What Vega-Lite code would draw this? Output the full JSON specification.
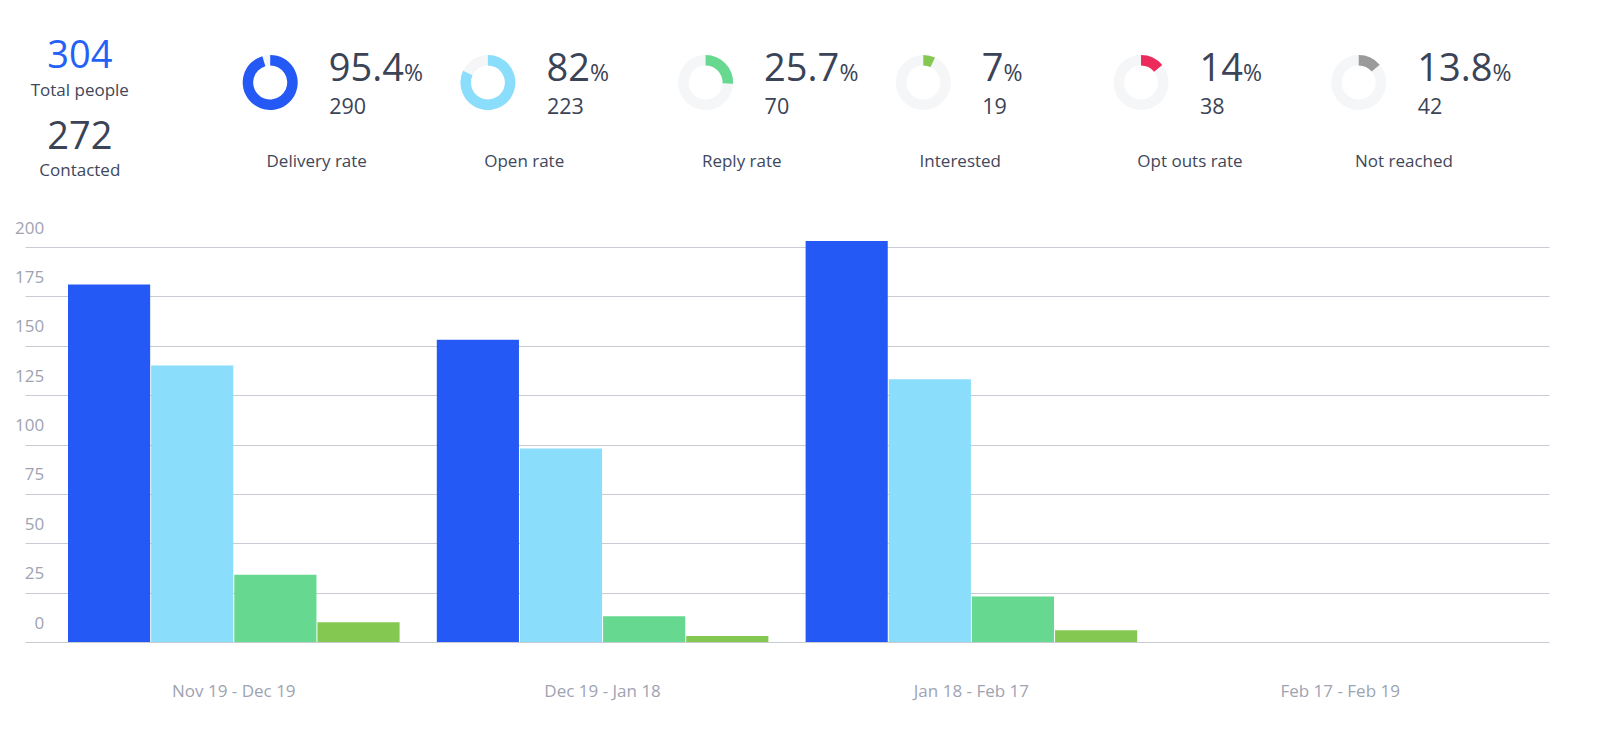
{
  "$schema": "https://vega.github.io/schema/vega-lite/v6.json",
  "padding": {"left": 14, "top": 0, "right": 20, "bottom": 36},
  "autosize": {"type": "pad"},
  "background": "white",
  "config": {"font": "Open Sans", "view": {"stroke": null}},
  "datasets": {
    "people": [{"total": 304, "contacted": 272}],
    "kpis": [
      {"metric": "Delivery rate", "rate": 95.4, "count": 290},
      {"metric": "Open rate", "rate": 82, "count": 223},
      {"metric": "Reply rate", "rate": 25.7, "count": 70},
      {"metric": "Interested", "rate": 7, "count": 19},
      {"metric": "Opt outs rate", "rate": 14, "count": 38},
      {"metric": "Not reached", "rate": 13.8, "count": 42}
    ],
    "periods": [
      {"period": "Nov 19 - Dec 19", "series": "Delivered", "value": 181},
      {"period": "Nov 19 - Dec 19", "series": "Opened", "value": 140},
      {"period": "Nov 19 - Dec 19", "series": "Replied", "value": 34},
      {"period": "Nov 19 - Dec 19", "series": "Interested", "value": 10},
      {"period": "Dec 19 - Jan 18", "series": "Delivered", "value": 153},
      {"period": "Dec 19 - Jan 18", "series": "Opened", "value": 98},
      {"period": "Dec 19 - Jan 18", "series": "Replied", "value": 13},
      {"period": "Dec 19 - Jan 18", "series": "Interested", "value": 3},
      {"period": "Jan 18 - Feb 17", "series": "Delivered", "value": 203},
      {"period": "Jan 18 - Feb 17", "series": "Opened", "value": 133},
      {"period": "Jan 18 - Feb 17", "series": "Replied", "value": 23},
      {"period": "Jan 18 - Feb 17", "series": "Interested", "value": 6},
      {"period": "Feb 17 - Feb 19", "series": "Delivered", "value": 0},
      {"period": "Feb 17 - Feb 19", "series": "Opened", "value": 0},
      {"period": "Feb 17 - Feb 19", "series": "Replied", "value": 0},
      {"period": "Feb 17 - Feb 19", "series": "Interested", "value": 0}
    ]
  },
  "bounds": "flush",
  "spacing": 82,
  "vconcat": [
    {
      "width": 1500,
      "height": 165,
      "data": {"name": "kpis"},
      "encoding": {
        "x": {"field": "metric", "type": "nominal", "sort": null, "axis": null, "scale": {"type": "band", "domain": ["Delivery rate", "Open rate", "Reply rate", "Interested", "Opt outs rate", "Not reached"], "paddingInner": 0, "paddingOuter": 0.445, "align": 0.7037}}
      },
      "layer": [
        {"mark": {"type": "arc", "radius": 27.5, "radius2": 17, "theta": 0, "theta2": 6.2832, "color": "#F5F6F8"}},
        {
          "mark": {"type": "arc", "radius": 27.5, "radius2": 17},
          "encoding": {
            "theta": {"field": "rate", "type": "quantitative", "stack": null, "scale": {"domain": [0, 100], "range": [0, 6.283185]}},
            "color": {"field": "metric", "type": "nominal", "legend": null, "scale": {"domain": ["Delivery rate", "Open rate", "Reply rate", "Interested", "Opt outs rate", "Not reached"], "range": ["#2459F5", "#8ADDFB", "#66D88F", "#84C852", "#EC2A5C", "#9A9A9A"]}}
          }
        },
        {"mark": {"type": "text", "align": "left", "baseline": "alphabetic", "fontSize": 38, "dx": 58.5, "dy": -1.5, "color": "#3b4356"}, "encoding": {"text": {"field": "rate", "type": "nominal"}}},
        {"mark": {"type": "text", "align": "left", "baseline": "alphabetic", "fontSize": 23, "dy": -1.5, "color": "#3b4356", "dx": {"expr": "58.5 + 21.74*length(replace(toString(datum.rate), '.', '')) + (indexof(toString(datum.rate), '.') >= 0 ? 10.1 : 0)"}}, "encoding": {"text": {"value": "%"}}},
        {"mark": {"type": "text", "align": "left", "baseline": "alphabetic", "fontSize": 21.5, "dx": 59, "dy": 31.8, "color": "#3b4356"}, "encoding": {"text": {"field": "count", "type": "nominal"}}},
        {"mark": {"type": "text", "align": "left", "baseline": "alphabetic", "fontSize": 17, "dx": -3.7, "dy": 84.2, "color": "#40475a"}, "encoding": {"text": {"field": "metric", "type": "nominal"}}},
        {"data": {"name": "people"}, "mark": {"type": "text", "fontSize": 38, "color": "#2461F6", "baseline": "alphabetic", "dx": -190.4, "dy": -14.2}, "encoding": {"x": {"datum": "Delivery rate"}, "text": {"field": "total", "type": "nominal"}}},
        {"data": {"name": "people"}, "mark": {"type": "text", "fontSize": 17, "color": "#40475a", "baseline": "alphabetic", "dx": -190.4, "dy": 13.2}, "encoding": {"x": {"datum": "Delivery rate"}, "text": {"value": "Total people"}}},
        {"data": {"name": "people"}, "mark": {"type": "text", "fontSize": 38, "color": "#3b4356", "baseline": "alphabetic", "dx": -190.4, "dy": 66.5}, "encoding": {"x": {"datum": "Delivery rate"}, "text": {"field": "contacted", "type": "nominal"}}},
        {"data": {"name": "people"}, "mark": {"type": "text", "fontSize": 17, "color": "#40475a", "baseline": "alphabetic", "dx": -190.4, "dy": 93.2}, "encoding": {"x": {"datum": "Delivery rate"}, "text": {"value": "Contacted"}}}
      ]
    },
    {
      "width": 1524,
      "height": 395,
      "data": {"name": "periods"},
      "mark": {"type": "bar"},
      "encoding": {
        "x": {
          "field": "period", "type": "nominal",
          "sort": ["Nov 19 - Dec 19", "Dec 19 - Jan 18", "Jan 18 - Feb 17", "Feb 17 - Feb 19"],
          "scale": {"paddingInner": 0.1009, "paddingOuter": 0.1166},
          "axis": {"title": null, "ticks": false, "domain": false, "grid": false, "labelAngle": 0, "labelPadding": 49, "labelFontSize": 17, "labelColor": "#9ea3b2", "labelBaseline": "middle"}
        },
        "xOffset": {
          "field": "series", "type": "nominal",
          "sort": ["Delivered", "Opened", "Replied", "Interested"],
          "scale": {"paddingInner": 0.012, "paddingOuter": 0}
        },
        "y": {
          "field": "value", "type": "quantitative",
          "scale": {"domain": [0, 200], "nice": false},
          "axis": {"title": null, "values": [0, 25, 50, 75, 100, 125, 150, 175, 200], "ticks": false, "domain": false, "grid": true, "gridColor": "#c9cbd3", "gridWidth": 1, "labelPadding": -18.7, "labelOffset": -19, "labelFontSize": 17, "labelColor": "#9ea3b2", "labelBaseline": "middle"}
        },
        "color": {
          "field": "series", "type": "nominal",
          "scale": {"domain": ["Delivered", "Opened", "Replied", "Interested"], "range": ["#2459F5", "#8ADDFB", "#66D88F", "#84C852"]},
          "legend": null
        }
      }
    }
  ]
}
